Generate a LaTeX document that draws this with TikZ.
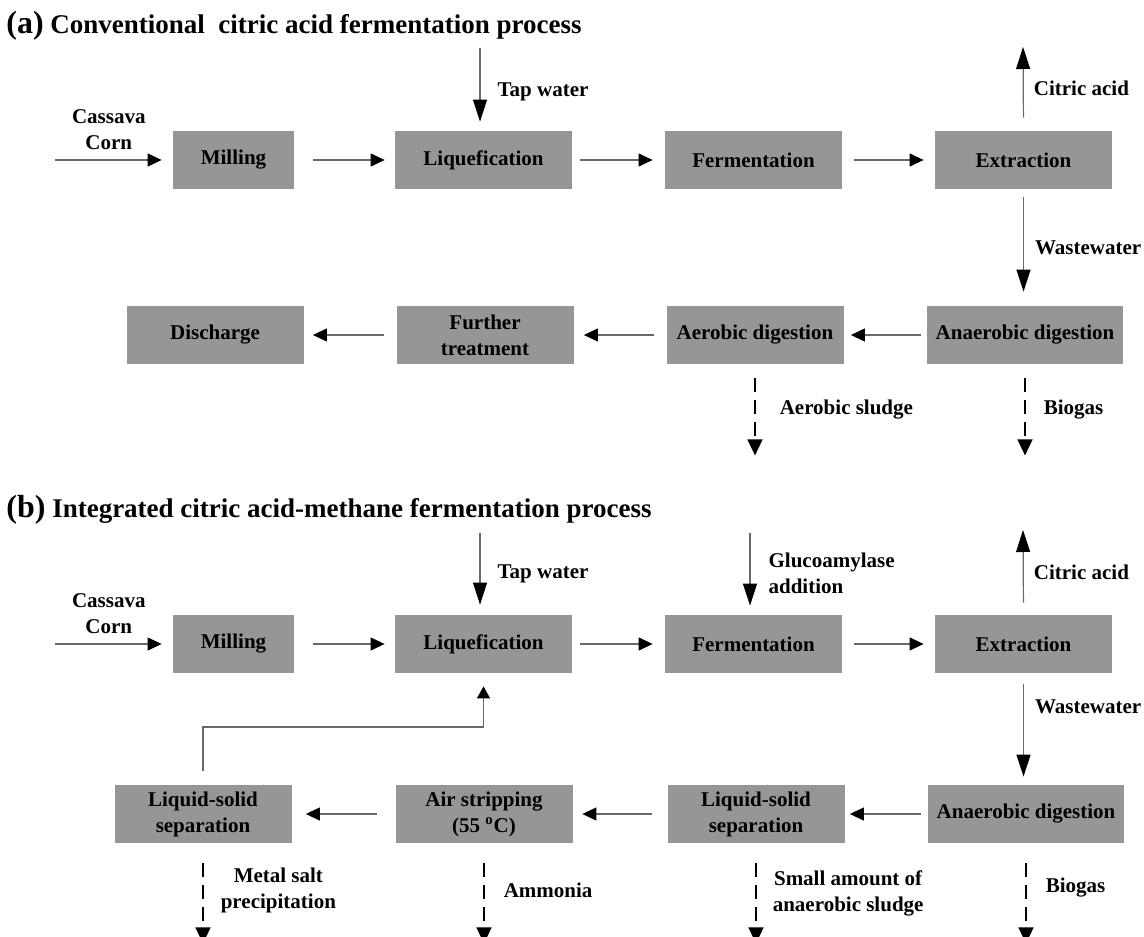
\documentclass[tikz,border=0pt]{standalone}
\usepackage{fontspec}
\setmainfont{Liberation Serif}
\usepackage{tikz}
\definecolor{boxgray}{RGB}{150,150,150}
\definecolor{linegray}{RGB}{105,105,105}
\usetikzlibrary{arrows.meta}

\begin{document}
\begin{tikzpicture}[x=0.5pt, y=-0.5pt, node distance=135pt,
	process/.style={rectangle, fill=boxgray, align=center, minimum width=88.5pt, minimum height=29pt, inner sep=0pt, font=\bfseries\fontsize{10.5}{13}\selectfont},
	lbl/.style={inner sep=0pt, align=center, font=\bfseries\fontsize{10.5}{13}\selectfont},
	flow/.style={draw=linegray, line width=0.6pt, -{Triangle[length=7pt, width=6.5pt, color=black]}},
	feed/.style={draw=linegray, line width=0.6pt, -{Triangle[length=11pt, width=7pt, color=black]}},
	waste/.style={draw=black, line width=0.8pt, dash pattern=on 7pt off 4pt, -{Triangle[length=8pt, width=7.5pt]}},
	title/.style={inner sep=0pt, anchor=west, font=\bfseries\fontsize{13.5}{16}\selectfont}]
	\useasboundingbox (0,0) rectangle (1144,936);
	
	% (a) conventional process
	\node[title] (titlea) at (6,26) {{\fontsize{16}{18}\selectfont (a)} Conventional\ \ citric acid fermentation process};
	
	\node[process, minimum width=60.5pt] (milla) at (233.5,160) {Milling};
	\node[process, right of=milla, xshift=-10pt] (liqa) {Liquefication};
	\node[process, right of=liqa] (ferma) {Fermentation};
	\node[process, right of=ferma] (extra) {Extraction};
	
	\node[process, minimum width=98pt] (anaera) at (1025,335) {Anaerobic digestion};
	\node[process, left of=anaera] (aera) {Aerobic digestion};
	\node[process, left of=aera] (furthera) {Further\\treatment};
	\node[process, left of=furthera] (dischargea) {Discharge};
	
	\coordinate (cassa) at (45,160);
	\coordinate (tapa) at (480,48);
	\coordinate (citrica) at (1023,47);
	\path (aera.south) ++(0,91) coordinate (sludgea);
	\path (anaera.south) ++(0,91) coordinate (biogasa);
	
	\draw[flow, shorten <=5pt, shorten >=5.5pt] (cassa) -- node[lbl, above=5pt] {Cassava\\Corn} (milla);
	\draw[flow, shorten <=9.5pt, shorten >=5pt] (milla) -- (liqa);
	\draw[flow, shorten <=4pt, shorten >=6pt] (liqa) -- (ferma);
	\draw[flow, shorten <=6pt, shorten >=5.5pt] (ferma) -- (extra);
	
	\draw[feed, shorten >=4.5pt] (tapa) -- node[lbl, right=8.5pt, pos=0.53] {Tap water} (tapa |- liqa.north);
	\draw[feed, shorten <=6.5pt] (extra.north) -- node[lbl, right=5pt] {Citric acid} (citrica);
	\draw[feed, shorten <=4pt, shorten >=7pt] (extra.south) -- node[lbl, right=5.5pt] {Wastewater} (extra.south |- anaera.north);
	
	\draw[flow, shorten <=3pt, shorten >=3.5pt] (anaera) -- (aera);
	\draw[flow, shorten <=6pt, shorten >=5pt] (aera) -- (furthera);
	\draw[flow, shorten <=6pt, shorten >=4.5pt] (furthera) -- (dischargea);
	
	\draw[waste, shorten <=7pt] (aera.south) -- node[lbl, right=12pt] {Aerobic sludge} (sludgea);
	\draw[waste, shorten <=7pt] (anaera.south) -- node[lbl, right=9pt] {Biogas} (biogasa);
	
	% (b) integrated process
	\node[title] (titleb) at (6,510) {{\fontsize{16}{18}\selectfont (b)} Integrated citric acid-methane fermentation process};
	
	\node[process, minimum width=60.5pt] (millb) at (233.5,644) {Milling};
	\node[process, right of=millb, xshift=-10pt] (liqb) {Liquefication};
	\node[process, right of=liqb] (fermb) {Fermentation};
	\node[process, right of=fermb] (extrb) {Extraction};
	
	\node[process, minimum width=98pt] (anaerb) at (1026,814) {Anaerobic digestion};
	\node[process, left of=anaerb] (sepb) {Liquid-solid\\separation};
	\node[process, left of=sepb, xshift=-1pt] (stripb) {Air stripping\\(55 \textsuperscript{o}C)};
	\node[process, left of=stripb, xshift=-5.5pt] (metalsepb) {Liquid-solid\\separation};
	
	\coordinate (cassb) at (45,644);
	\coordinate (tapb) at (480,533);
	\coordinate (glucob) at (750,533);
	\coordinate (citricb) at (1023,530);
	\coordinate (recycleb) at (203,727);
	\path (metalsepb.south) ++(0,100) coordinate (saltb);
	\path (stripb.south) ++(0,100) coordinate (ammoniab);
	\path (sepb.south) ++(0,100) coordinate (sludgeb);
	\path (anaerb.south) ++(0,100) coordinate (biogasb);
	
	\draw[flow, shorten <=5pt, shorten >=5.5pt] (cassb) -- node[lbl, above=5pt] {Cassava\\Corn} (millb);
	\draw[flow, shorten <=9.5pt, shorten >=5pt] (millb) -- (liqb);
	\draw[flow, shorten <=4pt, shorten >=6pt] (liqb) -- (fermb);
	\draw[flow, shorten <=6pt, shorten >=5.5pt] (fermb) -- (extrb);
	
	\draw[feed, shorten >=5pt] (tapb) -- node[lbl, right=8.5pt] {Tap water} (tapb |- liqb.north);
	\draw[feed, shorten >=4.5pt] (glucob) -- node[lbl, right=9pt, align=left] {Glucoamylase\\addition} (glucob |- fermb.north);
	\draw[feed, shorten <=6pt] (extrb.north) -- node[lbl, right=5pt] {Citric acid} (citricb);
	\draw[feed, shorten <=5.5pt, shorten >=4pt] (extrb.south) -- node[lbl, right=5.5pt, pos=0.3] {Wastewater} (extrb.south |- anaerb.north);
	
	\draw[flow, shorten <=3.5pt, shorten >=2.5pt] (anaerb) -- (sepb);
	\draw[flow, shorten <=7.75pt, shorten >=4.75pt] (sepb) -- (stripb);
	\draw[flow, shorten <=9.25pt, shorten >=7pt] (stripb) -- (metalsepb);
	\draw[flow, -{Triangle[length=6pt, width=6.5pt, color=black]}, shorten <=7pt, shorten >=6.5pt] (metalsepb.north) -- (recycleb) -| (liqb.south);
	
	\draw[waste, shorten <=10pt] (metalsepb.south) -- node[lbl, right=8.5pt, pos=0.47] {Metal salt\\precipitation} (saltb);
	\draw[waste, shorten <=10pt] (stripb.south) -- node[lbl, right=9.5pt, pos=0.47] {Ammonia} (ammoniab);
	\draw[waste, shorten <=10pt] (sepb.south) -- node[lbl, right=8pt, pos=0.5] {Small amount of\\anaerobic sludge} (sludgeb);
	\draw[waste, shorten <=10pt] (anaerb.south) -- node[lbl, right=9.5pt, pos=0.44] {Biogas} (biogasb);
\end{tikzpicture}
\end{document}
